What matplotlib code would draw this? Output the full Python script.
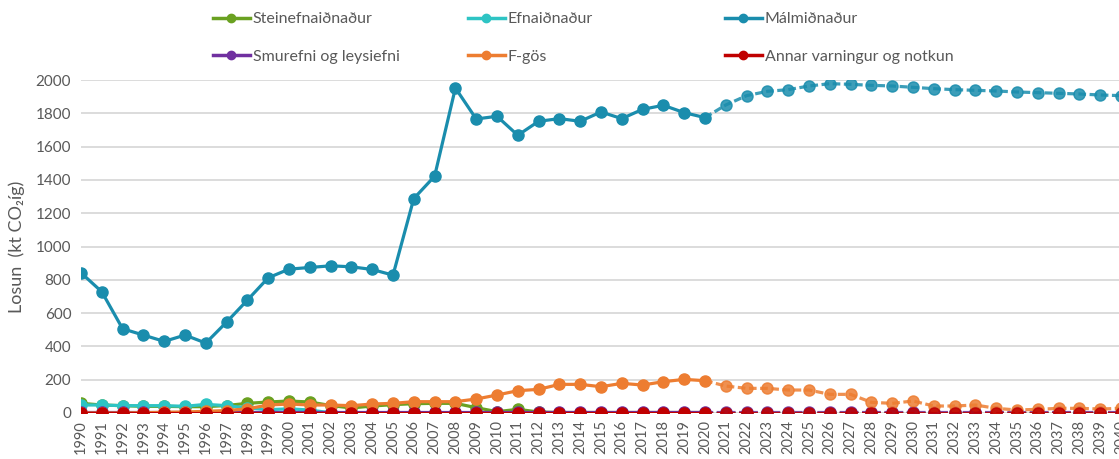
import matplotlib
matplotlib.use("Agg")
from matplotlib import pyplot as plt
from matplotlib.lines import Line2D

years = list(range(1990, 2041))

steinefna = [58, 48, 44, 40, 40, 38, 38, 45, 58, 66, 72,
             66, 45, 30, 42, 50, 56, 58, 58, 32, 8,
             22, 6, 3, 3, 3, 3, 3, 3, 3, 3,
             3, 3, 3, 3, 3, 3, 3, 3, 3, 3,
             3, 3, 3, 3, 3, 3, 3, 3, 3, 3]
efna = [48, 48, 44, 44, 44, 40, 52, 44, 30, 20, 25,
        18, 1, 1, 1, 1, 1, 1, 1, 1, 1,
        1, 1, 1, 1, 1, 1, 1, 1, 1, 1,
        1, 1, 1, 1, 1, 1, 1, 1, 1, 1,
        1, 1, 1, 1, 1, 1, 1, 1, 1, 1]
malm = [842, 728, 506, 468, 430, 468, 420, 546, 678, 812, 864,
        874, 884, 878, 862, 828, 1288, 1422, 1952, 1766, 1782,
        1668, 1752, 1768, 1752, 1808, 1768, 1824, 1848, 1804, 1774,
        1850, 1906, 1932, 1942, 1964, 1978, 1974, 1968, 1964, 1956,
        1948, 1942, 1938, 1934, 1928, 1924, 1920, 1916, 1910, 1906]
smurefni = [5, 5, 5, 5, 5, 5, 5, 5, 5, 5, 5,
            5, 5, 5, 5, 5, 5, 5, 5, 5, 5,
            5, 5, 5, 5, 5, 5, 5, 5, 5, 5,
            5, 5, 5, 5, 5, 5, 5, 5, 5, 5,
            5, 5, 5, 5, 5, 5, 5, 5, 5, 5]
fgos = [0, 0, 0, 2, 4, 6, 10, 15, 25, 48, 54,
        48, 48, 44, 54, 58, 68, 68, 68, 84, 108,
        134, 142, 172, 172, 158, 178, 168, 188, 202, 194,
        162, 148, 148, 138, 138, 112, 112, 64, 58, 72,
        42, 42, 48, 28, 18, 22, 28, 28, 24, 28]
annar = [2, 2, 2, 2, 2, 2, 2, 2, 2, 2, 2,
         2, 2, 2, 2, 2, 2, 2, 2, 2, 2,
         2, 2, 2, 2, 2, 2, 2, 2, 2, 2,
         2, 2, 2, 2, 2, 2, 2, 2, 2, 2,
         2, 2, 2, 2, 2, 2, 2, 2, 2, 2]

names = ["Steinefnaiðnaður", "Efnaiðnaður", "Málmiðnaður",
         "Smurefni og leysiefni", "F-gös", "Annar varningur og notkun"]
colors = ["#6AA121", "#2EC4C4", "#1A8DAD", "#7030A0", "#ED7D31", "#C00000"]
series = [steinefna, efna, malm, smurefni, fgos, annar]

last_hist = years.index(2020)
font = ["Lato", "DejaVu Sans"]
grey = "#595959"

fig = plt.figure(figsize=(11.19, 4.59), dpi=100)
ax = fig.add_axes([81 / 1119, 46 / 459, 1040 / 1119, 333 / 459])

for vals, c in zip(series, colors):
    # measured years: solid
    ax.plot(years[:last_hist + 1], vals[:last_hist + 1], color=c, lw=2.3,
            marker="o", ms=8, solid_capstyle="round", zorder=3)
    # projection: dashed, a bit lighter
    ax.plot(years[last_hist:], vals[last_hist:], color=c, lw=2.3,
            linestyle=(0, (2.4, 1.1)), alpha=0.85, zorder=3)
    ax.plot(years[last_hist + 1:], vals[last_hist + 1:], color=c, lw=0,
            marker="o", ms=8, alpha=0.85, zorder=3)

ax.set_xlim(1990, 2040)
ax.set_ylim(0, 2000)
ax.set_yticks(range(0, 2001, 200))
ax.set_xticks(years)
ax.set_xticklabels([str(y) for y in years], rotation=90, fontsize=10.5,
                   color=grey, family=font)
for lbl in ax.get_yticklabels():
    lbl.set_fontsize(11)
    lbl.set_color(grey)
    lbl.set_family(font)
ax.tick_params(axis="both", length=0, pad=7)
ax.tick_params(axis="x", pad=5)
ax.grid(axis="y", color="#D9D9D9", lw=1.3)
ax.set_axisbelow(True)
for s in ax.spines.values():
    s.set_visible(False)

ax.set_ylabel("Losun  (kt CO₂íg)", fontsize=13, color=grey, family=font,
              labelpad=8)

# legend in three columns, placed like the original
col_x = [213 / 1119, 468 / 1119, 725 / 1119]
for col in range(3):
    handles = []
    labels = []
    for row in range(2):
        i = row * 3 + col
        handles.append(Line2D([], [], color=colors[i], lw=2.5, marker="o", ms=6))
        labels.append(names[i])
    fig.legend(handles, labels, loc="upper left",
               bbox_to_anchor=(col_x[col], 1.0 - 12 / 459), frameon=False,
               handlelength=2.3, handletextpad=0.2, borderpad=0, borderaxespad=0,
               labelspacing=1.45, prop={"family": font, "size": 11.5},
               labelcolor=grey)

fig.savefig("out.png", dpi=100)
